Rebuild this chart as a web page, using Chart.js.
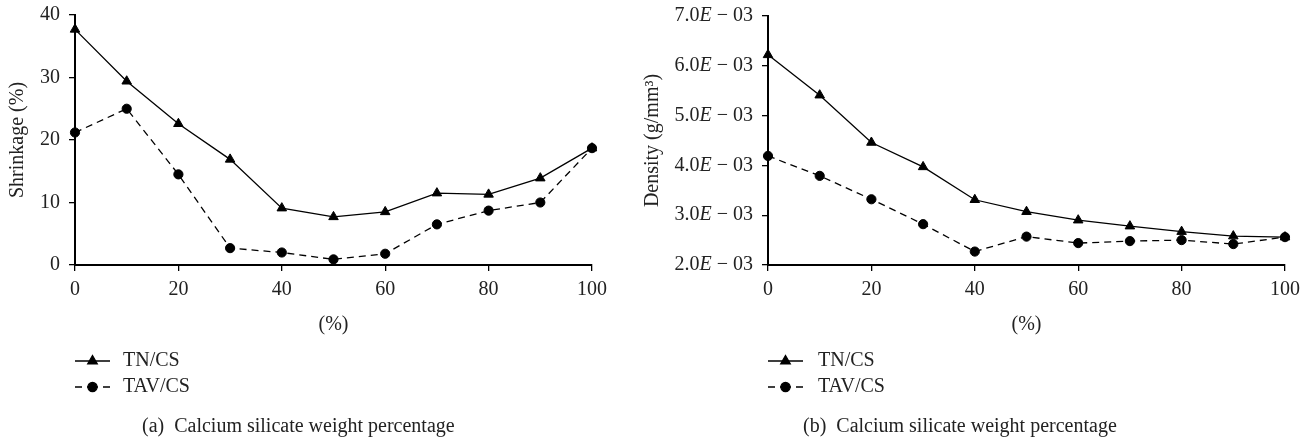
<!DOCTYPE html>
<html>
<head>
<meta charset="utf-8">
<script src="https://cdn.jsdelivr.net/npm/chart.js@4.4.1/dist/chart.umd.min.js"></script>
<style>
  html, body { margin: 0; padding: 0; background: #fff; }
  #wrap { position: relative; width: 1312px; height: 442px; }
  .box { position: absolute; top: 0; height: 442px; }
  #boxA { left: 0; width: 620px; }
  #boxB { left: 620px; width: 692px; }
</style>
</head>
<body>
<div id="wrap">
  <div class="box" id="boxA"><canvas id="chartA"></canvas></div>
  <div class="box" id="boxB"><canvas id="chartB"></canvas></div>
</div>
<script>
// calcium silicate weight percentage (x)
var percent = [0, 10, 20, 30, 40, 50, 60, 70, 80, 90, 100];

// (a) shrinkage, %
var shrinkTN  = [37.7, 29.4, 22.6, 16.9, 9.1, 7.7, 8.5, 11.5, 11.3, 13.9, 18.7];
var shrinkTAV = [21.2, 25.0, 14.5, 2.7, 2.0, 0.9, 1.8, 6.5, 8.7, 10.0, 18.7];

// (b) density, g/mm3
var densityTN  = [0.00622, 0.00541, 0.00446, 0.00397, 0.00331, 0.00307, 0.00290, 0.00278, 0.00267, 0.00258, 0.00256];
var densityTAV = [0.00419, 0.00379, 0.00332, 0.00282, 0.00227, 0.00257, 0.00244, 0.00248, 0.00250, 0.00242, 0.00256];

// tick labels
var xTicks = [0, 20, 40, 60, 80, 100];
var shrinkTicks = [0, 10, 20, 30, 40];
var densityTicks = [0.002, 0.003, 0.004, 0.005, 0.006, 0.007];

var serif = '"Liberation Serif", "DejaVu Serif", serif';
var textColor = '#222';
Chart.defaults.font.family = serif;
Chart.defaults.font.size = 20;
Chart.defaults.color = textColor;

function series(label, values, style, dash, order) {
  return {
    label: label,
    data: values.map(function (v, i) { return { x: percent[i], y: v }; }),
    borderColor: '#000',
    backgroundColor: '#000',
    borderWidth: 1.3,
    borderDash: dash,
    pointStyle: style,
    pointRadius: style === 'triangle' ? 5.5 : 4.6,
    pointBorderWidth: 1,
    tension: 0,
    clip: false,
    order: order
  };
}

function fixedTicks(list) {
  return function (scale) {
    scale.ticks = list.map(function (v) { return { value: v }; });
  };
}

var axisGrid = { drawOnChartArea: false, drawTicks: true, tickLength: 6, color: '#000', lineWidth: 1.3 };
var axisBorder = { display: true, color: '#000', width: 2 };

// legend rows + caption under each panel
var paperLegend = {
  id: 'paperLegend',
  afterDraw: function (chart, args, opts) {
    var ctx = chart.ctx;
    ctx.save();
    ctx.font = '20px ' + serif;
    ctx.textBaseline = 'middle';
    var items = chart.data.datasets.slice().sort(function (a, b) { return b.order - a.order; });
    items.forEach(function (ds, i) {
      var y = opts.rows[i];
      var xm = (opts.lineX0 + opts.lineX1) / 2;
      ctx.strokeStyle = '#000';
      ctx.lineWidth = 1.3;
      ctx.setLineDash(ds.borderDash || []);
      ctx.beginPath();
      ctx.moveTo(opts.lineX0, y); ctx.lineTo(xm, y);
      ctx.moveTo(opts.lineX1, y); ctx.lineTo(xm, y);
      ctx.stroke();
      ctx.setLineDash([]);
      ctx.fillStyle = '#000';
      Chart.helpers.drawPoint(ctx, {
        pointStyle: ds.pointStyle, radius: ds.pointRadius, borderWidth: 1, rotation: 0
      }, xm, y);
      ctx.fillStyle = textColor;
      ctx.textAlign = 'left';
      ctx.fillText(ds.label, opts.textX, y);
    });
    ctx.fillText(opts.caption, opts.captionX, opts.captionY);
    ctx.restore();
  }
};

// y tick labels; "sci" gives "7.0E − 03" with an italic E
var yLabels = {
  id: 'yLabels',
  afterDraw: function (chart, args, opts) {
    var s = chart.scales.y;
    var ctx = chart.ctx;
    ctx.save();
    ctx.fillStyle = textColor;
    ctx.textBaseline = 'middle';
    ctx.textAlign = 'left';
    s.ticks.forEach(function (t) {
      var y = s.getPixelForValue(t.value);
      var right = s.right - 15;
      ctx.font = '20px ' + serif;
      if (!opts.sci) {
        var txt = String(t.value);
        ctx.fillText(txt, right - ctx.measureText(txt).width, y);
        return;
      }
      var exp = Math.floor(Math.log10(t.value) + 1e-9);
      var mant = (t.value / Math.pow(10, exp)).toFixed(1);
      var tail = ' ' + (exp < 0 ? '\u2212' : '+') + ' ' + String(Math.abs(exp)).padStart(2, '0');
      var wTail = ctx.measureText(tail).width;
      var wMant = ctx.measureText(mant).width;
      ctx.font = 'italic 20px ' + serif;
      var wE = ctx.measureText('E').width;
      var x = right - wTail - wE - wMant;
      ctx.font = '20px ' + serif;
      ctx.fillText(mant, x, y);
      ctx.font = 'italic 20px ' + serif;
      ctx.fillText('E', x + wMant, y);
      ctx.font = '20px ' + serif;
      ctx.fillText(tail, x + wMant + wE, y);
    });
    ctx.restore();
  }
};

new Chart(document.getElementById('chartA'), {
  type: 'line',
  data: {
    datasets: [
      series('TN/CS', shrinkTN, 'triangle', [], 1),
      series('TAV/CS', shrinkTAV, 'circle', [7, 5], 0)
    ]
  },
  options: {
    responsive: true,
    maintainAspectRatio: false,
    animation: false,
    layout: { padding: { left: 0, top: 15, right: 28, bottom: 105 } },
    plugins: {
      legend: { display: false },
      tooltip: { enabled: false },
      yLabels: { sci: false },
      paperLegend: {
        lineX0: 75, lineX1: 110, textX: 123, rows: [361, 387],
        caption: '(a)  Calcium silicate weight percentage', captionX: 142, captionY: 427
      }
    },
    scales: {
      x: {
        type: 'linear', min: 0, max: 100,
        afterBuildTicks: fixedTicks(xTicks),
        afterFit: function (s) { s.height = 72; },
        border: axisBorder,
        grid: axisGrid,
        ticks: { padding: 7, maxRotation: 0, autoSkip: false },
        title: { display: true, text: '(%)', padding: { top: 0, bottom: 0 } }
      },
      y: {
        min: 0, max: 40,
        afterBuildTicks: fixedTicks(shrinkTicks),
        afterFit: function (s) { s.width = 75; },
        border: axisBorder,
        grid: axisGrid,
        ticks: { display: false },
        title: { display: true, text: 'Shrinkage (%)', padding: { top: 6, bottom: 0 } }
      }
    }
  },
  plugins: [paperLegend, yLabels]
});

new Chart(document.getElementById('chartB'), {
  type: 'line',
  data: {
    datasets: [
      series('TN/CS', densityTN, 'triangle', [], 1),
      series('TAV/CS', densityTAV, 'circle', [7, 5], 0)
    ]
  },
  options: {
    responsive: true,
    maintainAspectRatio: false,
    animation: false,
    layout: { padding: { left: 0, top: 16, right: 27, bottom: 105 } },
    plugins: {
      legend: { display: false },
      tooltip: { enabled: false },
      yLabels: { sci: true },
      paperLegend: {
        lineX0: 148, lineX1: 183, textX: 198, rows: [361, 387],
        caption: '(b)  Calcium silicate weight percentage', captionX: 183, captionY: 427
      }
    },
    scales: {
      x: {
        type: 'linear', min: 0, max: 100,
        afterBuildTicks: fixedTicks(xTicks),
        afterFit: function (s) { s.height = 72; },
        border: axisBorder,
        grid: axisGrid,
        ticks: { padding: 7, maxRotation: 0, autoSkip: false },
        title: { display: true, text: '(%)', padding: { top: 0, bottom: 0 } }
      },
      y: {
        min: 0.002, max: 0.007,
        afterBuildTicks: fixedTicks(densityTicks),
        afterFit: function (s) { s.width = 148; },
        border: axisBorder,
        grid: axisGrid,
        ticks: { display: false },
        title: { display: true, text: 'Density (g/mm\u00b3)', padding: { top: 21, bottom: 0 } }
      }
    }
  },
  plugins: [paperLegend, yLabels]
});
</script>
</body>
</html>
